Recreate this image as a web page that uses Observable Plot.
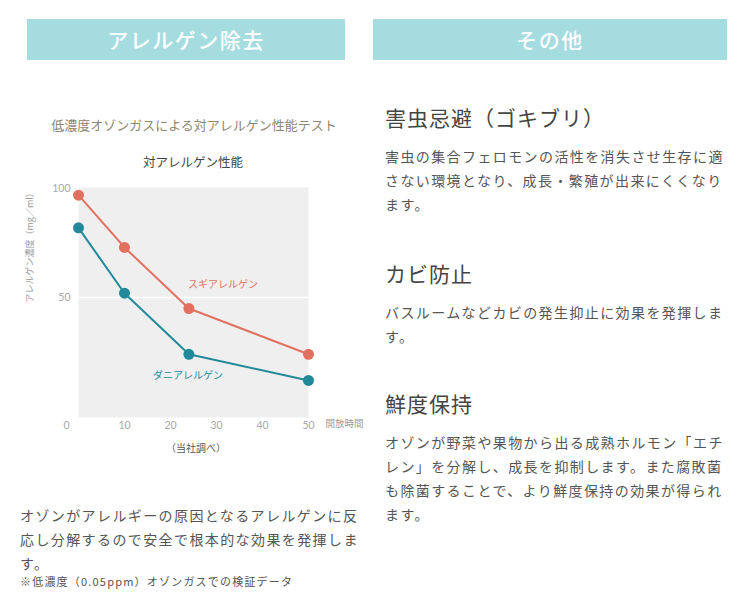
<!DOCTYPE html>
<html><head><meta charset="utf-8">
<script src="https://cdn.jsdelivr.net/npm/d3@7"></script>
<script src="https://cdn.jsdelivr.net/npm/@observablehq/plot@0.6"></script>
<style>
html,body{margin:0;padding:0;background:#fff;}
body{width:750px;height:614px;position:relative;overflow:hidden;font-family:"Noto Sans CJK JP","Noto Sans",sans-serif;color:#555;}
.abs{position:absolute;white-space:nowrap;}
.banner{background:#A4DCDF;color:#fff;font-size:21px;line-height:41px;height:41px;text-align:center;letter-spacing:1.5px;font-weight:500;}
.para{font-size:14px;line-height:24px;letter-spacing:1.4px;color:#555;}
.head{font-size:21px;line-height:30px;letter-spacing:1px;color:#444;}
</style>
</head><body>
<div class="abs banner" style="left:27px;top:19px;width:318px;">アレルゲン除去</div>
<div class="abs banner" style="left:373px;top:19px;width:354px;">その他</div>

<div class="abs" id="subtitle" style="left:20px;top:115px;width:348px;text-align:center;font-size:13px;line-height:20px;color:#8d8872;"></div>
<div class="abs" id="ctitle" style="left:20px;top:152px;width:346px;text-align:center;font-size:12.5px;line-height:20px;color:#444;font-weight:400;"></div>
<div class="abs" id="chart" style="left:0px;top:170px;"></div>
<div class="abs" id="caption" style="left:20px;top:440px;width:352px;text-align:center;font-size:10px;line-height:16px;color:#555;"></div>

<div class="abs para" style="left:20px;top:503px;">オゾンがアレルギーの原因となるアレルゲンに反<br>応し分解するので安全で根本的な効果を発揮しま<br>す。</div>
<div class="abs" style="left:20px;top:573px;font-size:11px;line-height:16px;letter-spacing:1.2px;color:#555;">※低濃度（0.05ppm）オゾンガスでの検証データ</div>

<div class="abs head" style="left:385px;top:102px;">害虫忌避（ゴキブリ）</div>
<div class="abs para" style="left:385px;top:144px;">害虫の集合フェロモンの活性を消失させ生存に適<br>さない環境となり、成長・繁殖が出来にくくなり<br>ます。</div>
<div class="abs head" style="left:385px;top:258px;">カビ防止</div>
<div class="abs para" style="left:385px;top:300px;">バスルームなどカビの発生抑止に効果を発揮しま<br>す。</div>
<div class="abs head" style="left:385px;top:388px;">鮮度保持</div>
<div class="abs para" style="left:385px;top:430px;">オゾンが野菜や果物から出る成熟ホルモン「エチ<br>レン」を分解し、成長を抑制します。また腐敗菌<br>も除菌することで、より鮮度保持の効果が得られ<br>ます。</div>

<script>
// ---- data ----
const subtitleText = "低濃度オゾンガスによる対アレルゲン性能テスト";
const chartTitle = "対アレルゲン性能";
const captionText = "（当社調べ）";
const xLabel = "開放時間";
const yLabel = "アレルゲン濃度（mg／ml）";
const times = [0, 10, 24, 50];
const seriesNames = ["スギアレルゲン", "ダニアレルゲン"];
const sugi = [97, 73, 45, 24];
const dani = [82, 52, 24, 12];
const xTicks = [0, 10, 20, 30, 40, 50];
const yTicks = [50, 100];
const colors = ["#E2705F", "#22899A"];

document.getElementById("subtitle").textContent = subtitleText;
document.getElementById("ctitle").textContent = chartTitle;
document.getElementById("caption").textContent = captionText;

const rows = [];
[sugi, dani].forEach((vals, s) => times.forEach((t, i) => rows.push({series: seriesNames[s], t, v: vals[i], i})));
const sugiLabel = rows.filter(d => d.i === 2 && d.series === seriesNames[0]);
const daniLabel = rows.filter(d => d.i === 2 && d.series === seriesNames[1]);

const font = "Lato, 'Noto Sans CJK JP', sans-serif";
const jp = "'Noto Sans CJK JP'";
const chart = Plot.plot({
  width: 375, height: 280,
  marginLeft: 78, marginRight: 67, marginTop: 17, marginBottom: 33,
  style: {fontFamily: font, background: "transparent", overflow: "visible"},
  x: {domain: [0, d3.max(times)], label: null},
  y: {domain: [-5, 100.5], label: null},
  color: {domain: seriesNames, range: colors},
  marks: [
    Plot.frame({fill: "#EFEFEF", stroke: null}),
    Plot.ruleY([50], {stroke: "#fff", strokeWidth: 1.5}),
    Plot.axisY({ticks: yTicks, tickSize: 0, tickPadding: 8, fontSize: 10.5, fill: "#a8a8a8", label: null}),
    Plot.axisX({ticks: xTicks.filter(t => t === 0), tickSize: 0, tickPadding: 4, fontSize: 10.5, fill: "#a8a8a8", label: null, dx: -12}),
    Plot.axisX({ticks: xTicks.filter(t => t !== 0), tickSize: 0, tickPadding: 4, fontSize: 10.5, fill: "#a8a8a8", label: null}),
    Plot.text([xLabel], {x: () => d3.max(times), frameAnchor: "bottom", text: d => d, dx: 17, dy: 9, textAnchor: "start", fontSize: 9.5, fill: "#999", fontFamily: jp}),
    Plot.text([yLabel], {frameAnchor: "left", text: d => d, rotate: -90, dx: -48, fontSize: 9, fill: "#999", fontFamily: jp}),
    Plot.line(rows, {x: "t", y: "v", z: "series", stroke: "series", strokeWidth: 2}),
    Plot.dot(rows, {x: "t", y: "v", fill: "series", r: 5.5}),
    Plot.text(sugiLabel, {x: "t", y: "v", text: "series", fill: "series", fontSize: 10, dx: 34, dy: -24, fontFamily: jp}),
    Plot.text(daniLabel, {x: "t", y: "v", text: "series", fill: "series", fontSize: 10, dx: -1, dy: 22, fontFamily: jp})
  ]
});
document.getElementById("chart").appendChild(chart);
</script>
</body></html>
